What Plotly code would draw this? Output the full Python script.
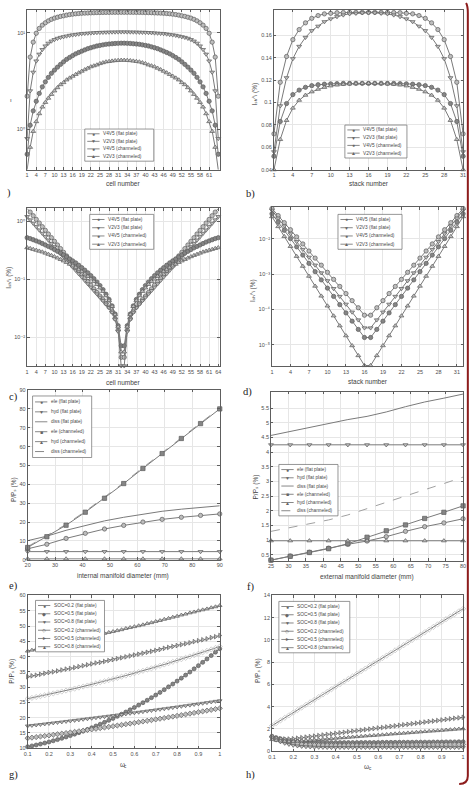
import plotly.graph_objects as go

# ---------------- data ----------------
cell_x = list(range(1, 65))
a_v4v5_flat = [2.2, 5.6, 8.0, 9.9, 11.1, 12.0, 12.7, 13.3, 13.8, 14.2, 14.5, 14.8, 15.0, 15.25, 15.45, 15.6, 15.75, 15.85, 15.95, 16.0, 16.05, 16.1, 16.15, 16.2, 16.22, 16.25, 16.27, 16.28, 16.29, 16.3, 16.3, 16.3,
               16.3, 16.3, 16.3, 16.29, 16.28, 16.27, 16.25, 16.22, 16.2, 16.15, 16.1, 16.05, 16.0, 15.95, 15.85, 15.75, 15.6, 15.45, 15.25, 15.0, 14.8, 14.5, 14.2, 13.8, 13.3, 12.7, 12.0, 11.1, 9.9, 8.0, 5.6, 2.2]
a_v2v3_flat = [0.8, 2.5, 3.9, 5.1, 6.0, 6.7, 7.3, 7.8, 8.2, 8.5, 8.75, 8.95, 9.1, 9.25, 9.4, 9.5, 9.6, 9.7, 9.8, 9.85, 9.9, 9.95, 10.0, 10.05, 10.08, 10.1, 10.13, 10.15, 10.17, 10.18, 10.19, 10.2,
               10.2, 10.19, 10.18, 10.17, 10.15, 10.13, 10.1, 10.08, 10.05, 10.0, 9.95, 9.9, 9.85, 9.8, 9.7, 9.6, 9.5, 9.4, 9.25, 9.1, 8.95, 8.75, 8.5, 8.2, 7.8, 7.3, 6.7, 6.0, 5.1, 3.9, 2.5, 0.8]
a_v4v5_ch = [0.55, 1.1, 1.55, 1.95, 2.35, 2.75, 3.1, 3.45, 3.8, 4.1, 4.4, 4.7, 5.0, 5.3, 5.55, 5.8, 6.05, 6.25, 6.45, 6.65, 6.85, 7.0, 7.15, 7.3, 7.4, 7.5, 7.6, 7.65, 7.7, 7.75, 7.78, 7.8,
             7.8, 7.78, 7.75, 7.7, 7.65, 7.6, 7.5, 7.4, 7.3, 7.15, 7.0, 6.85, 6.65, 6.45, 6.25, 6.05, 5.8, 5.55, 5.3, 5.0, 4.7, 4.4, 4.1, 3.8, 3.45, 3.1, 2.75, 2.35, 1.95, 1.55, 1.1, 0.55]
a_v2v3_ch = [0.38, 0.65, 0.95, 1.2, 1.45, 1.7, 1.9, 2.1, 2.3, 2.5, 2.7, 2.9, 3.05, 3.25, 3.4, 3.55, 3.7, 3.85, 4.0, 4.15, 4.3, 4.45, 4.55, 4.65, 4.8, 4.9, 5.0, 5.05, 5.1, 5.15, 5.18, 5.2,
             5.2, 5.18, 5.15, 5.1, 5.05, 5.0, 4.9, 4.8, 4.65, 4.55, 4.45, 4.3, 4.15, 4.0, 3.85, 3.7, 3.55, 3.4, 3.25, 3.05, 2.9, 2.7, 2.5, 2.3, 2.1, 1.9, 1.7, 1.45, 1.2, 0.95, 0.65, 0.38]

stack_b = list(range(1, 32))
b_v4v5_flat = [0.072, 0.118, 0.141, 0.156, 0.165, 0.171, 0.175, 0.1775, 0.179, 0.1795, 0.18, 0.1802, 0.1803, 0.1803, 0.1803, 0.1803,
               0.1803, 0.1803, 0.1803, 0.1802, 0.18, 0.1795, 0.179, 0.1775, 0.175, 0.171, 0.165, 0.156, 0.141, 0.118, 0.072]
b_v2v3_flat = [0.056, 0.097, 0.122, 0.139, 0.15, 0.158, 0.164, 0.168, 0.172, 0.1745, 0.1765, 0.178, 0.179, 0.1795, 0.18, 0.18,
               0.18, 0.1795, 0.179, 0.178, 0.1765, 0.1745, 0.172, 0.168, 0.164, 0.158, 0.15, 0.139, 0.122, 0.097, 0.056]
b_v4v5_ch = [0.052, 0.083, 0.099, 0.107, 0.111, 0.1135, 0.115, 0.1158, 0.1163, 0.1166, 0.1168, 0.117, 0.117, 0.117, 0.117, 0.117,
             0.117, 0.117, 0.117, 0.117, 0.1168, 0.1166, 0.1163, 0.1158, 0.115, 0.1135, 0.111, 0.107, 0.099, 0.083, 0.052]
b_v2v3_ch = [0.04, 0.067, 0.084, 0.095, 0.102, 0.1065, 0.1095, 0.1118, 0.1135, 0.1148, 0.1156, 0.1162, 0.1166, 0.1168, 0.117, 0.117,
             0.117, 0.1168, 0.1166, 0.1162, 0.1156, 0.1148, 0.1135, 0.1118, 0.1095, 0.1065, 0.102, 0.095, 0.084, 0.067, 0.04]

c_v4v5_flat = [1.66, 1.435, 1.242, 1.074, 0.929, 0.804, 0.695, 0.601, 0.52, 0.45, 0.389, 0.337, 0.291, 0.252, 0.218, 0.188, 0.163, 0.141, 0.122, 0.105, 0.0912, 0.0789, 0.0682, 0.059, 0.0511, 0.0442, 0.0382, 0.033, 0.0275, 0.0209, 0.0132, 0.0045,
               0.0045, 0.0132, 0.0209, 0.0275, 0.033, 0.0382, 0.0442, 0.0511, 0.059, 0.0682, 0.0789, 0.0912, 0.105, 0.122, 0.141, 0.163, 0.188, 0.218, 0.252, 0.291, 0.337, 0.389, 0.45, 0.52, 0.601, 0.695, 0.804, 0.929, 1.074, 1.242, 1.435, 1.66]
c_v2v3_flat = [1.2, 1.052, 0.92, 0.805, 0.705, 0.617, 0.54, 0.472, 0.413, 0.361, 0.316, 0.277, 0.242, 0.212, 0.185, 0.162, 0.142, 0.124, 0.109, 0.0951, 0.0832, 0.0728, 0.0637, 0.0557, 0.0488, 0.0427, 0.0372, 0.0324, 0.0269, 0.0204, 0.0126, 0.0032,
               0.0032, 0.0126, 0.0204, 0.0269, 0.0324, 0.0372, 0.0427, 0.0488, 0.0557, 0.0637, 0.0728, 0.0832, 0.0951, 0.109, 0.124, 0.142, 0.162, 0.185, 0.212, 0.242, 0.277, 0.316, 0.361, 0.413, 0.472, 0.54, 0.617, 0.705, 0.805, 0.92, 1.052, 1.2]
c_v4v5_ch = [0.519, 0.501, 0.479, 0.457, 0.437, 0.412, 0.389, 0.367, 0.347, 0.324, 0.302, 0.282, 0.263, 0.243, 0.224, 0.207, 0.191, 0.174, 0.158, 0.143, 0.129, 0.115, 0.102, 0.0891, 0.0776, 0.0661, 0.055, 0.0447, 0.0347, 0.0251, 0.0158, 0.0071,
             0.0071, 0.0158, 0.0251, 0.0347, 0.0447, 0.055, 0.0661, 0.0776, 0.0891, 0.102, 0.115, 0.129, 0.143, 0.158, 0.174, 0.191, 0.207, 0.224, 0.243, 0.263, 0.282, 0.302, 0.324, 0.347, 0.367, 0.389, 0.412, 0.437, 0.457, 0.479, 0.501, 0.519]
c_v2v3_ch = [0.35, 0.339, 0.327, 0.316, 0.305, 0.295, 0.282, 0.269, 0.257, 0.245, 0.232, 0.219, 0.207, 0.195, 0.182, 0.17, 0.158, 0.146, 0.135, 0.123, 0.112, 0.101, 0.0912, 0.0813, 0.0708, 0.0617, 0.0519, 0.0427, 0.0339, 0.0245, 0.0151, 0.0056,
             0.0056, 0.0151, 0.0245, 0.0339, 0.0427, 0.0519, 0.0617, 0.0708, 0.0813, 0.0912, 0.101, 0.112, 0.123, 0.135, 0.146, 0.158, 0.17, 0.182, 0.195, 0.207, 0.219, 0.232, 0.245, 0.257, 0.269, 0.282, 0.295, 0.305, 0.316, 0.327, 0.339, 0.35]

stack_d = list(range(1, 33))
d_v4v5_flat = [0.0708, 0.0447, 0.0282, 0.0178, 0.0112, 0.00708, 0.00447, 0.00282, 0.00178, 0.00112, 0.000708, 0.000447, 0.000282, 0.000178, 0.000112, 0.000069,
               0.000069, 0.000112, 0.000178, 0.000282, 0.000447, 0.000708, 0.00112, 0.00178, 0.00282, 0.00447, 0.00708, 0.0112, 0.0178, 0.0282, 0.0447, 0.0708]
d_v2v3_flat = [0.0631, 0.0379, 0.0228, 0.0137, 0.00824, 0.00495, 0.00298, 0.00179, 0.00108, 0.000647, 0.000389, 0.000234, 0.000141, 0.0000845, 0.0000508, 0.0000302,
               0.0000302, 0.0000508, 0.0000845, 0.000141, 0.000234, 0.000389, 0.000647, 0.00108, 0.00179, 0.00298, 0.00495, 0.00824, 0.0137, 0.0228, 0.0379, 0.0631]
d_v4v5_ch = [0.0501, 0.0293, 0.0171, 0.01, 0.00586, 0.00343, 0.002, 0.00117, 0.000685, 0.000401, 0.000234, 0.000137, 0.0000802, 0.0000469, 0.0000274, 0.0000162,
             0.0000162, 0.0000274, 0.0000469, 0.0000802, 0.000137, 0.000234, 0.000401, 0.000685, 0.00117, 0.002, 0.00343, 0.00586, 0.01, 0.0171, 0.0293, 0.0501]
d_v2v3_ch = [0.0417, 0.0219, 0.0115, 0.00603, 0.00316, 0.00166, 0.000871, 0.000457, 0.00024, 0.000126, 0.0000661, 0.0000347, 0.0000182, 0.00000955, 0.00000501, 0.00000263,
             0.00000263, 0.00000501, 0.00000955, 0.0000182, 0.0000347, 0.0000661, 0.000126, 0.00024, 0.000457, 0.000871, 0.00166, 0.00316, 0.00603, 0.0115, 0.0219, 0.0417]

e_x = [20, 27, 34, 41, 48, 55, 62, 69, 76, 83, 90]
e_ele_flat = [5.8, 8.2, 11.3, 14.0, 16.3, 18.2, 20.0, 21.4, 22.5, 23.5, 24.3]
e_hyd_flat = [4.3, 4.3, 4.3, 4.3, 4.3, 4.3, 4.3, 4.3, 4.3, 4.3, 4.3]
e_diss_flat = [10.1, 12.5, 15.6, 18.3, 20.6, 22.5, 24.3, 25.7, 26.8, 27.8, 28.6]
e_ele_ch = [6.5, 12.2, 18.3, 25.2, 32.6, 40.4, 48.4, 56.3, 64.3, 72.2, 80.0]
e_hyd_ch = [0.45, 0.45, 0.45, 0.45, 0.45, 0.45, 0.45, 0.45, 0.45, 0.45, 0.45]
e_diss_ch = [6.95, 12.65, 18.75, 25.65, 33.05, 40.85, 48.85, 56.75, 64.75, 72.65, 80.45]

f_x = [25, 30.5, 36, 41.5, 47, 52.5, 58, 63.5, 69, 74.5, 80]
f_ele_flat = [0.32, 0.46, 0.59, 0.73, 0.86, 0.97, 1.12, 1.3, 1.46, 1.59, 1.73]
f_hyd_flat = [4.25, 4.25, 4.25, 4.25, 4.25, 4.25, 4.25, 4.25, 4.25, 4.25, 4.25]
f_diss_flat = [4.57, 4.71, 4.84, 4.98, 5.11, 5.22, 5.37, 5.55, 5.71, 5.84, 5.98]
f_ele_ch = [0.32, 0.45, 0.58, 0.71, 0.88, 1.1, 1.32, 1.52, 1.74, 1.95, 2.17]
f_hyd_ch = [0.98, 0.98, 0.98, 0.98, 0.98, 0.98, 0.98, 0.98, 0.98, 0.98, 0.98]
f_diss_ch = [1.3, 1.43, 1.56, 1.69, 1.86, 2.08, 2.3, 2.5, 2.72, 2.93, 3.15]

w_x = [0.1, 0.12, 0.14, 0.16, 0.18, 0.2, 0.22, 0.24, 0.26, 0.28, 0.3, 0.32, 0.34, 0.36, 0.38, 0.4, 0.42, 0.44, 0.46, 0.48,
       0.5, 0.52, 0.54, 0.56, 0.58, 0.6, 0.62, 0.64, 0.66, 0.68, 0.7, 0.72, 0.74, 0.76, 0.78, 0.8, 0.82, 0.84, 0.86, 0.88,
       0.9, 0.92, 0.94, 0.96, 0.98, 1.0]
g_soc02_flat = [10.5, 10.77, 11.07, 11.38, 11.72, 12.07, 12.45, 12.84, 13.25, 13.69, 14.14, 14.62, 15.11, 15.62, 16.16, 16.71, 17.29, 17.88, 18.49, 19.13, 19.78, 20.45, 21.15, 21.86, 22.59, 23.35, 24.12, 24.91, 25.72, 26.56, 27.41, 28.28, 29.18, 30.09, 31.02, 31.97, 32.95, 33.94, 34.95, 35.99, 37.04, 38.11, 39.2, 40.32, 41.45, 42.6]
g_soc05_flat = [13.3, 13.48, 13.66, 13.85, 14.03, 14.22, 14.41, 14.6, 14.79, 14.98, 15.18, 15.37, 15.57, 15.77, 15.98, 16.18, 16.38, 16.59, 16.8, 17.01, 17.22, 17.44, 17.65, 17.87, 18.09, 18.31, 18.53, 18.76, 18.99, 19.21, 19.44, 19.67, 19.91, 20.14, 20.37, 20.61, 20.85, 21.09, 21.33, 21.58, 21.83, 22.07, 22.32, 22.57, 22.83, 23.08]
g_soc08_flat = [17.3, 17.46, 17.62, 17.78, 17.95, 18.11, 18.28, 18.44, 18.61, 18.78, 18.95, 19.12, 19.29, 19.46, 19.63, 19.81, 19.98, 20.16, 20.33, 20.51, 20.69, 20.87, 21.05, 21.23, 21.42, 21.6, 21.79, 21.97, 22.16, 22.35, 22.54, 22.73, 22.92, 23.11, 23.31, 23.5, 23.71, 23.91, 24.11, 24.32, 24.52, 24.72, 24.93, 25.14, 25.35, 25.55]
g_soc02_ch = [26.2, 26.48, 26.77, 27.05, 27.35, 27.65, 27.95, 28.26, 28.57, 28.88, 29.2, 29.53, 29.86, 30.19, 30.53, 30.88, 31.23, 31.58, 31.94, 32.3, 32.66, 33.03, 33.41, 33.79, 34.17, 34.56, 34.96, 35.35, 35.76, 36.16, 36.58, 36.99, 37.41, 37.84, 38.27, 38.7, 39.14, 39.58, 40.03, 40.48, 40.94, 41.4, 41.87, 42.34, 42.82, 43.3]
g_soc05_ch = [33.4, 33.7, 33.9, 34.2, 34.5, 34.8, 35.0, 35.3, 35.6, 35.9, 36.1, 36.4, 36.7, 37.0, 37.3, 37.6, 37.9, 38.1, 38.4, 38.7, 39.0, 39.3, 39.6, 39.9, 40.2, 40.5, 40.8, 41.1, 41.4, 41.7, 42.0, 42.3, 42.7, 43.0, 43.3, 43.6, 43.9, 44.2, 44.5, 44.9, 45.2, 45.5, 45.8, 46.2, 46.5, 46.9]
g_soc08_ch = [41.8, 42.1, 42.4, 42.8, 43.1, 43.4, 43.7, 44.0, 44.4, 44.7, 45.0, 45.3, 45.6, 46.0, 46.3, 46.6, 46.9, 47.2, 47.6, 47.9, 48.2, 48.5, 48.8, 49.2, 49.5, 49.8, 50.1, 50.4, 50.8, 51.1, 51.5, 51.8, 52.2, 52.5, 52.9, 53.2, 53.6, 53.9, 54.3, 54.6, 55.0, 55.3, 55.6, 56.0, 56.3, 56.7]

h_soc02_flat = [1.35, 1.22, 1.12, 1.04, 0.98, 0.93, 0.89, 0.86, 0.84, 0.82, 0.81, 0.8, 0.79, 0.79, 0.78, 0.78, 0.78, 0.78, 0.78, 0.78, 0.78, 0.79, 0.79, 0.79, 0.79, 0.79, 0.8, 0.8, 0.8, 0.8, 0.81, 0.81, 0.81, 0.81, 0.82, 0.82, 0.82, 0.82, 0.83, 0.83, 0.83, 0.84, 0.84, 0.84, 0.85, 0.85]
h_soc05_flat = [1.3, 1.12, 0.98, 0.87, 0.79, 0.72, 0.67, 0.63, 0.6, 0.58, 0.57, 0.56, 0.55, 0.55, 0.54, 0.54, 0.54, 0.54, 0.54, 0.54, 0.54, 0.54, 0.54, 0.54, 0.54, 0.54, 0.55, 0.55, 0.56, 0.56, 0.56, 0.57, 0.57, 0.57, 0.58, 0.58, 0.58, 0.59, 0.59, 0.59, 0.6, 0.6, 0.6, 0.61, 0.61, 0.61]
h_soc08_flat = [1.2, 1.0, 0.84, 0.71, 0.61, 0.53, 0.47, 0.43, 0.4, 0.38, 0.36, 0.35, 0.34, 0.33, 0.33, 0.33, 0.33, 0.33, 0.33, 0.33, 0.33, 0.33, 0.33, 0.33, 0.33, 0.33, 0.33, 0.33, 0.33, 0.33, 0.33, 0.33, 0.33, 0.33, 0.33, 0.33, 0.33, 0.33, 0.33, 0.33, 0.33, 0.33, 0.33, 0.33, 0.33, 0.33]
h_soc02_ch = [2.3, 2.53, 2.77, 3.0, 3.23, 3.47, 3.7, 3.93, 4.17, 4.4, 4.63, 4.87, 5.1, 5.33, 5.57, 5.8, 6.03, 6.27, 6.5, 6.73, 6.97, 7.2, 7.43, 7.67, 7.9, 8.13, 8.37, 8.6, 8.83, 9.07, 9.3, 9.53, 9.77, 10.0, 10.23, 10.47, 10.7, 10.93, 11.17, 11.4, 11.63, 11.87, 12.1, 12.33, 12.57, 12.8]
h_soc05_ch = [1.25, 1.18, 1.12, 1.1, 1.1, 1.12, 1.17, 1.22, 1.27, 1.31, 1.36, 1.41, 1.46, 1.51, 1.55, 1.6, 1.65, 1.7, 1.75, 1.8, 1.84, 1.89, 1.94, 1.99, 2.04, 2.09, 2.13, 2.18, 2.23, 2.28, 2.33, 2.38, 2.42, 2.47, 2.52, 2.57, 2.62, 2.67, 2.71, 2.76, 2.81, 2.86, 2.91, 2.96, 3.0, 3.05]
h_soc08_ch = [1.05, 0.98, 0.93, 0.9, 0.88, 0.88, 0.91, 0.94, 0.97, 1.0, 1.02, 1.05, 1.08, 1.11, 1.14, 1.17, 1.2, 1.22, 1.25, 1.28, 1.31, 1.34, 1.37, 1.4, 1.42, 1.45, 1.48, 1.51, 1.54, 1.57, 1.6, 1.62, 1.65, 1.68, 1.71, 1.74, 1.77, 1.8, 1.82, 1.85, 1.88, 1.91, 1.94, 1.97, 2.0, 2.02]

# tick labels
cell_ticks_a = [1, 4, 7, 10, 13, 16, 19, 22, 25, 28, 31, 34, 37, 40, 43, 46, 49, 52, 55, 58, 61]
cell_ticks_c = [1, 4, 7, 10, 13, 16, 19, 22, 25, 28, 31, 34, 37, 40, 43, 46, 49, 52, 55, 58, 61, 64]
stack_ticks = [1, 4, 7, 10, 13, 16, 19, 22, 25, 28, 31]
a_yticks = [1, 10]
a_yticktext = ["10⁰", "10¹"]
b_yticks = [0.04, 0.06, 0.08, 0.1, 0.12, 0.14, 0.16]
b_yticktext = ["0.04", "0.06", "0.08", "0.1", "0.12", "0.14", "0.16"]
c_yticks = [0.01, 0.1, 1]
c_yticktext = ["10⁻²", "10⁻¹", "10⁰"]
d_yticks = [1e-5, 1e-4, 1e-3, 1e-2]
d_yticktext = ["10⁻⁵", "10⁻⁴", "10⁻³", "10⁻²"]
e_xticks = [20, 30, 40, 50, 60, 70, 80, 90]
e_yticks = [0, 10, 20, 30, 40, 50, 60, 70, 80, 90]
f_xticks = [25, 30, 35, 40, 45, 50, 55, 60, 65, 70, 75, 80]
f_yticks = [0.5, 1, 1.5, 2, 2.5, 3, 3.5, 4, 4.5, 5, 5.5]
f_yticktext = ["0.5", "1", "1.5", "2", "2.5", "3", "3.5", "4", "4.5", "5", "5.5"]
w_ticks = [0.1, 0.2, 0.3, 0.4, 0.5, 0.6, 0.7, 0.8, 0.9, 1.0]
w_ticktext = ["0.1", "0.2", "0.3", "0.4", "0.5", "0.6", "0.7", "0.8", "0.9", "1"]
g_yticks = [10, 15, 20, 25, 30, 35, 40, 45, 50, 55, 60]
h_yticks = [0, 2, 4, 6, 8, 10, 12, 14]

leg_v = ["V4V5 (flat plate)", "V2V3 (flat plate)", "V4V5 (channeled)", "V2V3 (channeled)"]
leg_p = ["ele (flat plate)", "hyd (flat plate)", "diss (flat plate)", "ele (channeled)", "hyd (channeled)", "diss (channeled)"]
leg_s = ["SOC=0.2 (flat plate)", "SOC=0.5 (flat plate)", "SOC=0.8 (flat plate)", "SOC=0.2 (channeled)", "SOC=0.5 (channeled)", "SOC=0.8 (channeled)"]

# ---------------- styling / layout ----------------
W, H = 473, 787
def px(x):
    return x / W
def py(y):
    return 1 - y / H

FONT = "Liberation Sans, DejaVu Sans, Arial, sans-serif"
SERIF = "Liberation Serif, Times New Roman, serif"
AX = "#5e5e5e"
GRID = "#e6e6e6"
LINEC = "#7a7a7a"
LIGHT = "#bdbdbd"
DARK = "#858585"
MEDGE = "#5c5c5c"

BOX = {
    'a': (23.5, 219, 7, 168),
    'b': (274, 466, 7, 168),
    'c': (23.5, 219, 207, 366),
    'd': (272, 466, 206, 366),
    'e': (24, 219, 390, 561),
    'f': (271, 466, 392, 562),
    'g': (24, 219, 597, 751),
    'h': (272, 466, 597, 754),
}
PANELS = ['a', 'b', 'c', 'd', 'e', 'f', 'g', 'h']

fig = go.Figure()

def ids(p):
    n = PANELS.index(p) + 1
    s = '' if n == 1 else str(n)
    return 'x' + s, 'y' + s, 'xaxis' + s, 'yaxis' + s

def series(p, x, y, name, symbol=None, fill=LIGHT, dash='solid', size=4.3, color=LINEC, width=1.0):
    xa, ya, _, _ = ids(p)
    kw = dict(x=x, y=y, name=name, xaxis=xa, yaxis=ya, showlegend=False, hoverinfo='skip',
              line=dict(color=color, width=width, dash=dash), cliponaxis=False)
    if symbol:
        kw['mode'] = 'lines+markers'
        kw['marker'] = dict(symbol=symbol, size=size, color=fill, line=dict(color=MEDGE, width=0.7))
    else:
        kw['mode'] = 'lines'
    fig.add_trace(go.Scatter(**kw))

lay = {}
def set_axes(p, xr, xtv, xtt, yr, ytv, ytt, ytype='linear'):
    x0, x1, y0, y1 = BOX[p]
    xa, ya, xk, yk = ids(p)
    common = dict(showline=True, linecolor=AX, linewidth=0.8, mirror='ticks', ticks='inside',
                  ticklen=2.5, tickwidth=0.6, tickcolor=AX, showgrid=True, gridcolor=GRID,
                  gridwidth=0.6, zeroline=False, fixedrange=True,
                  tickfont=dict(family=FONT, size=5.5, color='#4e4e4e'))
    lay[xk] = dict(common, domain=[px(x0), px(x1)], anchor=ya, range=xr, tickvals=xtv, ticktext=xtt)
    lay[yk] = dict(common, domain=[py(y1), py(y0)], anchor=xa, range=yr, tickvals=ytv, ticktext=ytt, type=ytype)

ann = []
def text(x, y, s, size=6.5, anchor='center', angle=0, family=FONT, color='#3e3e3e'):
    ann.append(dict(x=px(x), y=py(y), xref='paper', yref='paper', text=s, showarrow=False,
                    xanchor=anchor, yanchor='middle', textangle=angle,
                    font=dict(family=family, size=size, color=color)))

shapes = []
def legend(x0, y0, w, rh, labels, glyphs, dashes):
    n = len(labels)
    hgt = rh * n + 2
    shapes.append(dict(type='rect', xref='paper', yref='paper', x0=px(x0), x1=px(x0 + w),
                       y0=py(y0 + hgt), y1=py(y0), line=dict(color='#6a6a6a', width=0.7), fillcolor='white'))
    for i in range(n):
        yc = y0 + 1 + rh * (i + 0.5)
        shapes.append(dict(type='line', xref='paper', yref='paper', x0=px(x0 + 2.5), x1=px(x0 + 15),
                           y0=py(yc), y1=py(yc), line=dict(color=LINEC, width=0.9, dash=dashes[i])))
        if glyphs[i]:
            text(x0 + 8.75, yc, glyphs[i], size=5, color='#666666')
        text(x0 + 16.5, yc, labels[i], size=4.8, anchor='left', color='#484848')

# ---- panel a ----
set_axes('a', [1, 64.5], cell_ticks_a, [str(v) for v in cell_ticks_a],
         [-0.42, 1.237], a_yticks, a_yticktext, 'log')
series('a', cell_x, a_v4v5_flat, leg_v[0], 'circle')
series('a', cell_x, a_v2v3_flat, leg_v[1], 'triangle-down')
series('a', cell_x, a_v4v5_ch, leg_v[2], 'circle', fill=DARK)
series('a', cell_x, a_v2v3_ch, leg_v[3], 'triangle-up')
legend(82, 127, 70, 7.6, leg_v, ['●', '▼', '●', '▲'], ['solid'] * 4)

# ---- panel b ----
set_axes('b', [1, 31], stack_ticks, [str(v) for v in stack_ticks],
         [0.04, 0.1825], b_yticks, b_yticktext)
series('b', stack_b, b_v4v5_flat, leg_v[0], 'circle')
series('b', stack_b, b_v2v3_flat, leg_v[1], 'triangle-down')
series('b', stack_b, b_v4v5_ch, leg_v[2], 'circle', fill=DARK)
series('b', stack_b, b_v2v3_ch, leg_v[3], 'triangle-up')
legend(346, 123, 63, 7.8, leg_v, ['●', '▼', '●', '▲'], ['solid'] * 4)

# ---- panel c ----
set_axes('c', [1, 64.5], cell_ticks_c, [str(v) for v in cell_ticks_c],
         [-2.5, 0.22], c_yticks, c_yticktext, 'log')
series('c', cell_x, c_v4v5_flat, leg_v[0], 'circle')
series('c', cell_x, c_v2v3_flat, leg_v[1], 'triangle-down')
series('c', cell_x, c_v4v5_ch, leg_v[2], 'circle', fill=DARK)
series('c', cell_x, c_v2v3_ch, leg_v[3], 'triangle-up')
legend(87, 213, 65, 8.3, leg_v, ['●', '▼', '●', '▲'], ['solid'] * 4)

# ---- panel d ----
set_axes('d', [1, 32], stack_ticks, [str(v) for v in stack_ticks],
         [-5.6, -1.12], d_yticks, d_yticktext, 'log')
series('d', stack_d, d_v4v5_flat, leg_v[0], 'circle')
series('d', stack_d, d_v2v3_flat, leg_v[1], 'triangle-down')
series('d', stack_d, d_v4v5_ch, leg_v[2], 'circle', fill=DARK)
series('d', stack_d, d_v2v3_ch, leg_v[3], 'triangle-up')
legend(339, 213, 65, 8.3, leg_v, ['●', '▼', '●', '▲'], ['solid'] * 4)

# ---- panel e ----
set_axes('e', [20, 90], e_xticks, [str(v) for v in e_xticks],
         [0, 90], e_yticks, [str(v) for v in e_yticks])
series('e', e_x, e_diss_flat, leg_p[2])
series('e', e_x, e_diss_ch, leg_p[5], dash='dash', color='#a0a0a0')
series('e', e_x, e_ele_flat, leg_p[0], 'circle')
series('e', e_x, e_hyd_flat, leg_p[1], 'triangle-down')
series('e', e_x, e_ele_ch, leg_p[3], 'square', fill=DARK)
series('e', e_x, e_hyd_ch, leg_p[4], 'triangle-up')
legend(29, 396, 60, 10, leg_p, ['●', '▼', '', '■', '▲', ''], ['solid'] * 5 + ['dash'])

# ---- panel f ----
set_axes('f', [25, 80], f_xticks, [str(v) for v in f_xticks],
         [0.3, 6.05], f_yticks, f_yticktext)
series('f', f_x, f_diss_flat, leg_p[2])
series('f', f_x, f_diss_ch, leg_p[5], dash='dash', color='#a0a0a0')
series('f', f_x, f_ele_flat, leg_p[0], 'circle')
series('f', f_x, f_hyd_flat, leg_p[1], 'triangle-down')
series('f', f_x, f_ele_ch, leg_p[3], 'square', fill=DARK)
series('f', f_x, f_hyd_ch, leg_p[4], 'triangle-up')
legend(279, 465, 60, 8.3, leg_p, ['●', '▼', '', '■', '▲', ''], ['solid'] * 5 + ['dash'])

# ---- panel g ----
set_axes('g', [0.1, 1.0], w_ticks, w_ticktext, [10, 60], g_yticks, [str(v) for v in g_yticks])
series('g', w_x, g_soc02_flat, leg_s[0], 'circle', fill=DARK, size=4)
series('g', w_x, g_soc05_flat, leg_s[1], 'diamond', size=4)
series('g', w_x, g_soc08_flat, leg_s[2], 'triangle-down', size=4)
series('g', w_x, g_soc02_ch, leg_s[3], 'diamond-open', size=4)
series('g', w_x, g_soc05_ch, leg_s[4], 'triangle-right', size=4)
series('g', w_x, g_soc08_ch, leg_s[5], 'triangle-up', size=4)
legend(32, 602, 70, 8.3, leg_s, ['●', '◆', '▼', '◇', '►', '▲'], ['solid'] * 6)

# ---- panel h ----
set_axes('h', [0.1, 1.0], w_ticks, w_ticktext, [0, 14], h_yticks, [str(v) for v in h_yticks])
series('h', w_x, h_soc02_flat, leg_s[0], 'circle', fill=DARK, size=4)
series('h', w_x, h_soc05_flat, leg_s[1], 'diamond', size=4)
series('h', w_x, h_soc08_flat, leg_s[2], 'triangle-down', size=4)
series('h', w_x, h_soc02_ch, leg_s[3], 'diamond-open', size=4)
series('h', w_x, h_soc05_ch, leg_s[4], 'triangle-right', size=4)
series('h', w_x, h_soc08_ch, leg_s[5], 'triangle-up', size=4)
legend(279, 603, 72, 8.3, leg_s, ['●', '◆', '▼', '◇', '►', '▲'], ['solid'] * 6)

# ---- axis titles ----
text(121, 182, 'cell number')
text(370, 182, 'stack number')
text(121, 382, 'cell number')
text(369, 381, 'stack number')
text(121, 577, 'internal manifold diameter (mm)')
text(368, 578, 'external manifold diameter (mm)')
text(120, 767.5, 'ω')
text(123.5, 769.5, 'c', size=4.5)
text(368, 769.5, 'ω')
text(371.5, 771.5, 'c', size=4.5)
text(7, 98, 'ı', size=6)
text(255, 92, 'Iₛₕᴬᵢ (%)', angle=-90)
text(5, 277, 'Iₛₕᶜᵢ (%)', angle=-90)
text(253, 290, 'Iₛₕᴬᵢ (%)', angle=-90)
text(10, 490, 'P/Pₛ (%)', angle=-90)
text(256, 488, 'P/Pₛ (%)', angle=-90)
text(8, 673, 'P/Pₛ (%)', angle=-90)
text(258, 673, 'P/Pₛ (%)', angle=-90)

# ---- panel letters ----
for lx, ly, s in [(5, 191, ')'), (250, 192, 'b)'), (10, 397, 'c)'), (247, 392, 'd)'),
                  (10, 587, 'e)'), (250, 588, 'f)'), (10, 778, 'g)'), (250, 778, 'h)')]:
    text(lx, ly, s, size=10.5, family=SERIF, color='#222')

# ---- red page border on the right ----
shapes.append(dict(type='path', xref='paper', yref='paper',
                   path=(f"M {px(469)},{py(0)} Q {px(470.8)},{py(3)} {px(470.8)},{py(10)} "
                         f"L {px(470.8)},{py(779)} Q {px(470.8)},{py(787)} {px(462)},{py(787)}"),
                   line=dict(color='#8d1c1c', width=2)))

fig.update_layout(width=W, height=H, margin=dict(l=0, r=0, t=0, b=0),
                  paper_bgcolor='white', plot_bgcolor='white', showlegend=False,
                  annotations=ann, shapes=shapes, **lay)

fig.write_html("out.html", config={'displayModeBar': False},
               post_script="document.body.style.margin='0';document.body.style.overflow='hidden';")
